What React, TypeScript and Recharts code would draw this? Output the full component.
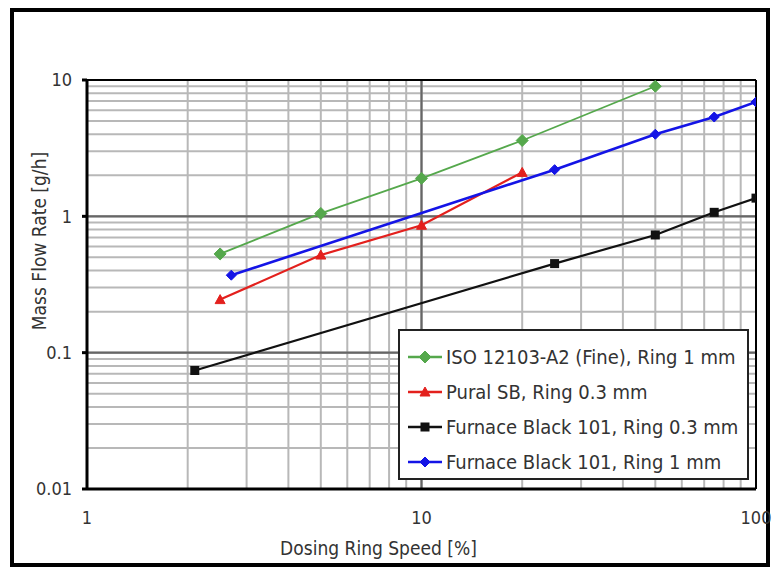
import { LineChart, Line, XAxis, YAxis, CartesianGrid, Legend, ReferenceLine } from 'recharts';

// measured series (x = dosing ring speed %, y = mass flow rate g/h)
const isoX = [2.5, 5, 10, 20, 50];
const isoY = [0.53, 1.05, 1.9, 3.6, 9.0];
const puralX = [2.5, 5, 10, 20];
const puralY = [0.245, 0.52, 0.86, 2.1];
const fb03X = [2.1, 25, 50, 75, 100];
const fb03Y = [0.074, 0.45, 0.73, 1.07, 1.36];
const fb1X = [2.7, 25, 50, 75, 100];
const fb1Y = [0.37, 2.2, 4.0, 5.35, 6.9];

const seriesNames = [
  'ISO 12103-A2 (Fine), Ring 1 mm',
  'Pural SB, Ring 0.3 mm',
  'Furnace Black 101, Ring 0.3 mm',
  'Furnace Black 101, Ring 1 mm',
];

// log axis ticks (all for the grid, decades get a label)
const xTicks = [1, 2, 3, 4, 5, 6, 7, 8, 9, 10, 20, 30, 40, 50, 60, 70, 80, 90, 100];
const xLabels = [1, 10, 100];
const yTicks = [
  0.01, 0.02, 0.03, 0.04, 0.05, 0.06, 0.07, 0.08, 0.09,
  0.1, 0.2, 0.3, 0.4, 0.5, 0.6, 0.7, 0.8, 0.9,
  1, 2, 3, 4, 5, 6, 7, 8, 9, 10,
];
const yLabels = [0.01, 0.1, 1, 10];

const toPoints = (xs: number[], ys: number[]) => xs.map((x, i) => ({ x, y: ys[i] }));

const FONT = '"DejaVu Sans Condensed", "DejaVu Sans", sans-serif';
const TEXT = '#333';

const Diamond = (color: string, r: number) => (p: any) => (
  <path
    key={p.index}
    d={`M${p.cx},${p.cy - r} L${p.cx + r},${p.cy} L${p.cx},${p.cy + r} L${p.cx - r},${p.cy} Z`}
    fill={color}
    stroke={color}
  />
);
const Triangle = (color: string, r: number) => (p: any) => (
  <path
    key={p.index}
    d={`M${p.cx},${p.cy - r} L${p.cx + r},${p.cy + r * 0.8} L${p.cx - r},${p.cy + r * 0.8} Z`}
    fill={color}
    stroke={color}
  />
);
const Square = (color: string, r: number) => (p: any) => (
  <rect key={p.index} x={p.cx - r} y={p.cy - r} width={r * 2} height={r * 2} fill={color} />
);

const series = [
  { data: toPoints(isoX, isoY), color: '#55a84c', width: 1.8, dot: Diamond('#55a84c', 6) },
  { data: toPoints(puralX, puralY), color: '#e3201d', width: 2.2, dot: Triangle('#e3201d', 5) },
  { data: toPoints(fb03X, fb03Y), color: '#111111', width: 2.2, dot: Square('#111111', 4.5) },
  { data: toPoints(fb1X, fb1Y), color: '#1414e6', width: 2.6, dot: Diamond('#1414e6', 5) },
];

const XTick = (props: any) => {
  const { x, y, payload } = props;
  if (!xLabels.includes(payload.value)) return <g />;
  return (
    <text x={x} y={y} dy="0.71em" textAnchor="middle" fill={TEXT} fontSize={18} fontFamily={FONT}>
      {String(payload.value)}
    </text>
  );
};

const YTick = (props: any) => {
  const { x, y, payload } = props;
  if (!yLabels.includes(payload.value)) return <g />;
  return (
    <g>
      <line x1={x + 10} x2={x + 15} y1={y} y2={y} stroke="#000" strokeWidth={3} />
      <text x={x} y={y} dy="0.36em" textAnchor="end" fill={TEXT} fontSize={18} fontFamily={FONT}>
        {String(payload.value)}
      </text>
    </g>
  );
};

const LegendBox = () => (
  <div
    style={{
      boxSizing: 'border-box',
      width: 351,
      height: 151,
      border: '2px solid #222',
      background: '#fff',
      paddingTop: 8,
      fontFamily: FONT,
      fontSize: 20,
      color: TEXT,
    }}
  >
    {series.map((s, i) => {
      const Dot = s.dot;
      return (
        <div key={i} style={{ display: 'flex', alignItems: 'center', height: 35, whiteSpace: 'nowrap' }}>
          <svg width={40} height={20} style={{ marginLeft: 6 }}>
            <line x1={2} x2={36} y1={10} y2={10} stroke={s.color} strokeWidth={2.5} />
            {Dot({ cx: 19, cy: 10, index: 0 })}
          </svg>
          <span>{seriesNames[i]}</span>
        </div>
      );
    })}
  </div>
);

export default function App() {
  return (
    <div style={{ position: 'absolute', left: 0, top: 0, width: 772, height: 571, background: '#fff' }}>
      <div
        style={{
          position: 'absolute',
          left: 10,
          top: 8,
          width: 760,
          height: 559,
          boxSizing: 'border-box',
          border: '4px solid #000',
        }}
      />
      <LineChart
        width={772}
        height={571}
        margin={{ top: 80, right: 16, bottom: 52, left: 0 }}
        style={{ position: 'absolute', left: 0, top: 0 }}
      >
        <CartesianGrid stroke="#b8b8b8" strokeWidth={2} />
        <XAxis
          type="number"
          dataKey="x"
          scale="log"
          domain={[1, 100]}
          ticks={xTicks}
          allowDataOverflow
          axisLine={{ stroke: '#000', strokeWidth: 3 }}
          tickLine={false}
          tickSize={6}
          tickMargin={16}
          height={30}
          tick={<XTick />}
          interval={0}
          label={{
            content: (p: any) => (
              <text
                x={p.viewBox.x + p.viewBox.width / 2 - 43}
                y={555}
                textAnchor="middle"
                fill={TEXT}
                fontSize={19}
                fontFamily={FONT}
              >
                Dosing Ring Speed [%]
              </text>
            ),
          }}
        />
        <YAxis
          type="number"
          dataKey="y"
          scale="log"
          domain={[0.01, 10]}
          ticks={yTicks}
          allowDataOverflow
          axisLine={{ stroke: '#000', strokeWidth: 3 }}
          tickLine={false}
          tickSize={6}
          tickMargin={9}
          width={87}
          tick={<YTick />}
          interval={0}
          label={{
            content: () => (
              <text
                x={46}
                y={241}
                transform="rotate(-90 46 241)"
                textAnchor="middle"
                fill={TEXT}
                fontSize={19}
                fontFamily={FONT}
              >
                Mass Flow Rate [g/h]
              </text>
            ),
          }}
        />
        <ReferenceLine x={10} stroke="#666" strokeWidth={2.2} />
        <ReferenceLine y={1} stroke="#666" strokeWidth={2.2} />
        <ReferenceLine y={0.1} stroke="#666" strokeWidth={2.2} />
        <ReferenceLine y={10} stroke="#000" strokeWidth={2} />
        <ReferenceLine x={100} stroke="#000" strokeWidth={2} />
        {series.map((s, i) => (
          <Line
            key={i}
            data={s.data}
            dataKey="y"
            name={seriesNames[i]}
            type="linear"
            stroke={s.color}
            strokeWidth={s.width}
            dot={s.dot}
            activeDot={false}
            isAnimationActive={false}
          />
        ))}
        <Legend
          layout="vertical"
          verticalAlign="middle"
          align="center"
          wrapperStyle={{ left: 398, top: 329, width: 351, height: 151 }}
          content={() => <LegendBox />}
        />
      </LineChart>
    </div>
  );
}
